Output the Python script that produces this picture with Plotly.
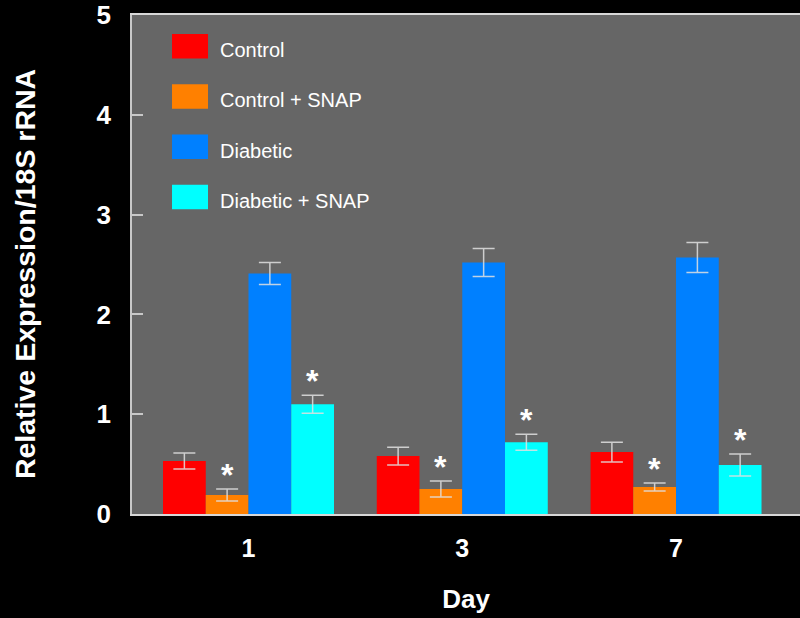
import plotly.graph_objects as go

days = ["1", "3", "7"]
series_names = ["Control", "Control + SNAP", "Diabetic", "Diabetic + SNAP"]
control = [0.53, 0.58, 0.62]
control_err = [0.08, 0.09, 0.10]
control_snap = [0.19, 0.25, 0.27]
control_snap_err = [0.06, 0.08, 0.04]
diabetic = [2.41, 2.52, 2.57]
diabetic_err = [0.11, 0.14, 0.15]
diabetic_snap = [1.10, 0.72, 0.49]
diabetic_snap_err = [0.09, 0.08, 0.11]
y_ticks = [0, 1, 2, 3, 4, 5]
significant = [False, True, False, True]  # asterisk on SNAP-treated series

values = [control, control_snap, diabetic, diabetic_snap]
errors = [control_err, control_snap_err, diabetic_err, diabetic_snap_err]
colors = ["#ff0000", "#ff8000", "#0080ff", "#00ffff"]
FONT = "Liberation Sans, Arial"

fig = go.Figure()
for name, vals, errs, col in zip(series_names, values, errors, colors):
    fig.add_trace(go.Bar(
        x=list(range(len(days))), y=vals, name=name,
        marker=dict(color=col, line=dict(width=0)),
        error_y=dict(type="data", array=errs, visible=True,
                     color="rgba(225,225,225,0.85)", thickness=1.5, width=11),
        showlegend=False,
    ))

# significance asterisks
for si, (vals, errs) in enumerate(zip(values, errors)):
    if not significant[si]:
        continue
    offset = -0.4 + 0.2 * si + 0.1
    for di in range(len(days)):
        fig.add_annotation(
            x=di + offset, y=vals[di] + errs[di], xref="x", yref="y",
            text="<b>*</b>", showarrow=False, yanchor="middle", yshift=14,
            font=dict(family=FONT, size=32, color="white"),
        )

# legend (inside plot, top-left)
step = 0.1008
for i, (name, col) in enumerate(zip(series_names, colors)):
    ytop = 0.962 - i * step
    fig.add_shape(type="rect", xref="paper", yref="paper",
                  x0=0.0599, x1=0.1138, y0=ytop - 0.049, y1=ytop,
                  fillcolor=col, line=dict(width=0))
    fig.add_annotation(xref="paper", yref="paper", x=0.129, y=ytop - 0.032,
                       text=name, showarrow=False, xanchor="left", yanchor="middle",
                       font=dict(family=FONT, size=20, color="white"))

# y-axis title
fig.add_annotation(xref="paper", yref="paper", x=-0.160, y=0.481,
                   text="<b>Relative Expression/18S rRNA</b>", textangle=-90,
                   showarrow=False, xanchor="center", yanchor="middle",
                   font=dict(family=FONT, size=28.5, color="white"))

fig.update_layout(
    width=800, height=618,
    paper_bgcolor="black", plot_bgcolor="#666666",
    margin=dict(l=132, r=0, t=15, b=104),
    barmode="group", bargap=0.2, bargroupgap=0,
    font=dict(family=FONT, color="white"),
    xaxis=dict(
        range=[-0.545, 2.58], tickmode="array",
        tickvals=list(range(len(days))), ticktext=days,
        showgrid=False, zeroline=False, ticks="",
        showline=True, linecolor="#d8d8d8", linewidth=1.5, mirror=True,
        tickfont=dict(size=25, color="white", family=FONT, weight="bold"),
        ticklabelstandoff=11,
        title=dict(text="<b>Day</b>", font=dict(size=26, color="white"), standoff=29),
    ),
    yaxis=dict(
        range=[0, 5], tickvals=y_ticks, showgrid=False, zeroline=False,
        ticks="inside", ticklen=11, tickcolor="#c8c8c8", tickwidth=1.5,
        showline=True, linecolor="#c8c8c8", linewidth=1.5,
        tickfont=dict(size=26, color="white", family=FONT, weight="bold"),
        ticklabelstandoff=14,
    ),
)

fig.write_html(
    "out.html",
    config={"displayModeBar": False},
    post_script="document.body.style.margin='0';document.body.style.padding='0';document.body.style.background='black';",
)
